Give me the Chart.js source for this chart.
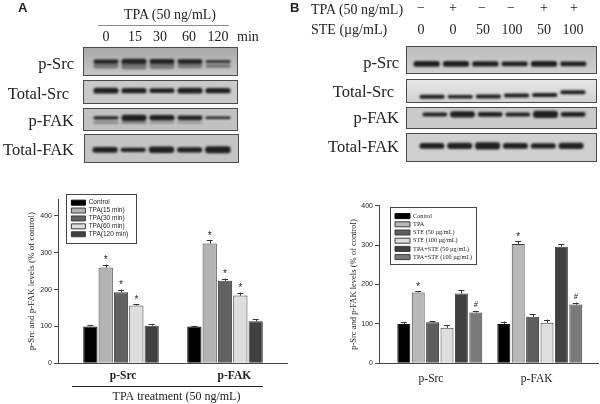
<!DOCTYPE html>
<html><head><meta charset="utf-8">
<script src="https://cdn.jsdelivr.net/npm/chart.js@4"></script>
<style>
html,body{margin:0;padding:0;background:#fff;width:600px;height:404px;overflow:hidden}
#page{position:relative;width:600px;height:404px;font-family:"Liberation Serif",serif;color:#222}
.t{position:absolute;white-space:nowrap;line-height:1;filter:blur(.3px)}
.panel{position:absolute;box-sizing:border-box;border:1px solid #4a4a4a;overflow:hidden}
.panel canvas{position:absolute;left:0;top:0;filter:blur(.9px)}
canvas.chart{position:absolute;filter:blur(.35px)}
</style></head><body><div id="page"></div>
<script>
// ---------- bar chart A ----------
const groupsA=['p-Src','p-FAK'];
const seriesNamesA=['Control','TPA(15 min)','TPA(30 min)','TPA(60 min)','TPA(120 min)'];
const colorsA=['#000000','#b4b4b4','#626262','#dedede','#404040'];
const controlA=[100,100], tpa15A=[260,325], tpa30A=[193,224], tpa60A=[157,184], tpa120A=[102,114];
const controlErrA=[3,2], tpa15ErrA=[8,9], tpa30ErrA=[7,6], tpa60ErrA=[4,8], tpa120ErrA=[4,5];
const marksA=['','*','*','*',''];
const yTicksA=[0,100,200,300,400];
// ---------- bar chart B ----------
const groupsB=['p-Src','p-FAK'];
const seriesNamesB=['Control','TPA','STE (50 \u00b5g/mL)','STE (100 \u00b5g/mL)','TPA+STE (50 \u00b5g/mL)','TPA+STE (100 \u00b5g/mL)'];
const colorsB=['#000000','#b8b8b8','#5e5e5e','#dedede','#404040','#7a7a7a'];
const controlB=[100,100], tpaB=[180,303], ste50B=[104,118], ste100B=[90,103], tpaSte50B=[177,296], tpaSte100B=[129,149];
const controlErrB=[5,6], tpaErrB=[3,7], ste50ErrB=[3,7], ste100ErrB=[6,8], tpaSte50ErrB=[8,6], tpaSte100ErrB=[4,5];
const marksB=['','*','','','','#'];
const yTicksB=[0,100,200,300,400];
// ---------- western blot band strengths ----------
const pSrcA=[7,10,9,8,5], pSrcA2=[10,14,12,9,7];
const totalSrcA=[13,12,11,13,12];
const pFakA=[8,15,13,11,6], pFakA2=[5,5,3,3,0];
const totalFakA=[11,8,12,10,13];
const pSrcB=[11,11,10,9,11,9];
const totalSrcB=[9,8,9,9,9,9], totalSrcBrow=[76,76,75,70,68,56];
const pFakB=[10,16,12,10,18,12];
const totalFakB=[11,12,13,11,10,12];
const lanesA=['0','15','30','60','120'];
const tpaMarks=['\u2212','+','\u2212','\u2212','+','+'];
const steDoses=['0','0','50','100','50','100'];

const page=document.getElementById('page');
function text(s,o){const d=document.createElement('div');d.className='t';d.textContent=s;
  d.style.fontSize=o.size+'px';d.style.top=(o.y-o.size/2)+'px';
  if(o.bold){d.style.fontWeight='bold'} if(o.font){d.style.fontFamily=o.font}
  if(o.anchor==='r'){d.style.right=(600-o.x)+'px'}
  else if(o.anchor==='c'){d.style.left=o.x+'px';d.style.transform='translateX(-50%)'}
  else d.style.left=o.x+'px';
  page.appendChild(d);}
function hline(x,y,w,c){const d=document.createElement('div');d.style.cssText=`position:absolute;left:${x}px;top:${y}px;width:${w}px;height:1px;background:${c}`;page.appendChild(d);}

const SANS='"Liberation Sans",sans-serif';
text('A',{x:18,y:7,size:13,bold:true,font:SANS});
text('B',{x:290,y:7,size:13,bold:true,font:SANS});
text('TPA (50 ng/mL)',{x:170,y:14.5,size:14,anchor:'c'});
hline(98,25,131,'#8a8a8a');
[106,135,160,189,218].forEach((x,i)=>text(lanesA[i],{x,y:37,size:14,anchor:'c'}));
text('min',{x:237,y:37,size:14});
text('TPA (50 ng/mL)',{x:311,y:9.5,size:14});
text('STE (\u00b5g/mL)',{x:311,y:29.5,size:14});
[421,453,482,511,544,574].forEach((x,i)=>text(tpaMarks[i],{x,y:8,size:14,anchor:'c'}));
[421,453,483,512,544,573].forEach((x,i)=>text(steDoses[i],{x,y:29.5,size:14,anchor:'c'}));
[['p-Src',74,64],['Total-Src',69,94],['p-FAK',74,121],['Total-FAK',74,150]].forEach(a=>text(a[0],{x:a[1],y:a[2],size:16.5,anchor:'r'}));
[['p-Src',399,63],['Total-Src',394,92],['p-FAK',399,118],['Total-FAK',399,147]].forEach(a=>text(a[0],{x:a[1],y:a[2],size:16.5,anchor:'r'}));

function blot(x,y,w,h,bg,padL,padR,labels,bands){
  const p=document.createElement('div');p.className='panel';
  p.style.cssText=`left:${x}px;top:${y}px;width:${w}px;height:${h}px;background:${bg}`;
  const c=document.createElement('canvas');c.width=w-2;c.height=h-2;p.appendChild(c);page.appendChild(p);
  new Chart(c,{type:'bar',data:{labels,datasets:bands.map(b=>({
      data:b.s.map((v,i)=>{const m=Array.isArray(b.row)?b.row[i]:b.row;return [m-v,m+v];}),
      backgroundColor:b.c,barPercentage:.9,categoryPercentage:1,borderRadius:3,borderSkipped:false,grouped:false}))},
    options:{responsive:false,animation:false,events:[],layout:{padding:{left:padL,right:padR,top:0,bottom:0}},
      plugins:{legend:{display:false},tooltip:{enabled:false}},
      scales:{x:{display:false},y:{display:false,min:0,max:100,reverse:true}}}});
}
const D='rgba(22,22,22,.95)',S='rgba(60,60,60,.55)';
blot(83,47,155,29,'linear-gradient(#a9a9a9,#c6c6c6)',8,5,lanesA,[{s:pSrcA2,row:66,c:S},{s:pSrcA,row:50,c:D}]);
blot(83,80,155,24,'#c9c9c9',8,5,lanesA,[{s:totalSrcA,row:44,c:D}]);
blot(83,108,155,23,'#c2c2c2',8,5,lanesA,[{s:pFakA2,row:65,c:S},{s:pFakA,row:42,c:D}]);
blot(84,134,155,29,'#c4c4c4',6,6,lanesA,[{s:totalFakA,row:55,c:D}]);
blot(406,46,191,28,'linear-gradient(#bdbdbd,#cfcfcf)',5,8,steDoses,[{s:pSrcB,row:65,c:D}]);
blot(406,79,191,24,'linear-gradient(#e6e6e6,#d2d2d2)',11,9,steDoses,[{s:totalSrcB,row:totalSrcBrow,c:D}]);
blot(406,107,191,22,'#cacaca',14,9,steDoses,[{s:pFakB,row:32,c:D}]);
blot(406,133,191,29,'#d0d0d0',11,11,steDoses,[{s:totalFakB,row:44,c:D}]);

Chart.defaults.color='#222';
function barChart(o){
  const c=document.createElement('canvas');c.className='chart';c.width=300;c.height=219;
  c.style.left=o.left+'px';c.style.top='185px';page.appendChild(c);
  const deco={id:'deco',
    beforeDraw(ch){const g=ch.ctx;g.save();g.strokeStyle='#444';g.lineWidth=1;g.strokeRect(o.frame[0]+.5,o.frame[1]+.5,o.frame[2],o.frame[3]);g.restore();},
    afterLayout(ch){const l=ch.legend;const w=l.right-l.left,h=l.bottom-l.top;l.left=o.legendAt[0];l.top=o.legendAt[1];l.right=l.left+w;l.bottom=l.top+h;},
    afterDatasetsDraw(ch){const g=ch.ctx,ys=ch.scales.y;g.save();
      ch.data.datasets.forEach((ds,i)=>{ch.getDatasetMeta(i).data.forEach((b,j)=>{
        const top=ys.getPixelForValue(ds.data[j].y+ds.err[j]);
        g.strokeStyle='#333';g.lineWidth=1;g.beginPath();
        g.moveTo(Math.round(b.x)+.5,b.y);g.lineTo(Math.round(b.x)+.5,top);
        g.moveTo(b.x-o.cap,Math.round(top)+.5);g.lineTo(b.x+o.cap,Math.round(top)+.5);g.stroke();
        const m=o.marks[i];
        if(m&&ds.data[j].y>120){g.fillStyle='#222';g.textAlign='center';g.textBaseline='middle';
          g.font=m==='#'?'italic 8px "Liberation Serif"':'10px "Liberation Sans"';g.fillText(m,b.x,top-(m==='#'?6:4));}
      });});
      if(o.under){g.strokeStyle='#222';g.beginPath();g.moveTo(72,201.5);g.lineTo(263,201.5);g.stroke();
        g.fillStyle='#222';g.font='12px "Liberation Serif"';g.textAlign='center';g.textBaseline='middle';g.fillText(o.under,176.5,212);}
      g.restore();}};
  return new Chart(c,{type:'bar',
    data:{datasets:o.series.map((s,i)=>({label:o.names[i],data:s.map((y,j)=>({x:j+1,y})),err:o.errs[i],
      backgroundColor:o.colors[i],borderColor:i===0?'#000':'#3c3c3c',borderWidth:1,
      barPercentage:o.barPct,categoryPercentage:o.catPct}))},
    plugins:[deco],
    options:{responsive:false,animation:false,events:[],
      layout:{padding:o.pad},
      plugins:{tooltip:{enabled:false},
        legend:{position:'chartArea',align:'start',labels:{boxWidth:o.boxW,boxHeight:5,padding:o.legPad,color:'#222',font:{family:o.legFont,size:o.legSize}}}},
      scales:{
        x:{type:'linear',min:o.xMin,max:o.xMax,offset:false,
          afterBuildTicks(a){a.ticks=o.labelAt.map(value=>({value}));},
          afterFit(a){a.height=o.xH;},
          grid:{display:false,drawTicks:false},border:{color:'#444'},
          ticks:{autoSkip:false,maxRotation:0,padding:o.xPad,color:'#222',font:{family:'"Liberation Serif"',size:11.5,weight:o.xBold},
            callback(v,i){return o.groups[i];}}},
        y:{min:0,max:o.yMax,
          afterBuildTicks(a){a.ticks=o.ticks.map(value=>({value}));},
          afterFit(a){a.width=o.yW;},
          grid:{drawOnChartArea:false,tickLength:4,color:'#444'},border:{color:'#444'},
          title:{display:true,text:'p-Src and p-FAK levels (% of control)',color:'#222',font:{family:'"Liberation Serif"',size:o.titleSize},padding:{top:0,bottom:0}},
          ticks:{padding:2,color:'#222',font:{family:SANS,size:7}}}}}});
}
barChart({left:0,groups:groupsA,names:seriesNamesA,colors:colorsA,
  series:[controlA,tpa15A,tpa30A,tpa60A,tpa120A],errs:[controlErrA,tpa15ErrA,tpa30ErrA,tpa60ErrA,tpa120ErrA],
  marks:marksA,ticks:yTicksA,yMax:446,xMin:.394,xMax:2.596,labelAt:[1.02,2.09],barPct:.93,catPct:.737,cap:3,
  pad:{left:26,right:13,top:14,bottom:0},yW:32,xH:40.7,xPad:6,xBold:'bold',titleSize:9,
  frame:[66,9,70,49],legendAt:[70,13],boxW:14,legPad:1.4,legFont:SANS,legSize:6.5,under:'TPA treatment (50 ng/mL)'});
barChart({left:300,groups:groupsB,names:seriesNamesB,colors:colorsB,
  series:[controlB,tpaB,ste50B,ste100B,tpaSte50B,tpaSte100B],errs:[controlErrB,tpaErrB,ste50ErrB,ste100ErrB,tpaSte50ErrB,tpaSte100ErrB],
  marks:marksB,ticks:yTicksB,yMax:400,xMin:.392,xMax:2.582,labelAt:[.912,1.969],barPct:.9,catPct:.864,cap:3,
  pad:{left:49,right:2,top:20.7,bottom:0},yW:30,xH:40.7,xPad:9,xBold:'normal',titleSize:8.5,
  frame:[90,22,86,57],legendAt:[93,26],boxW:15,legPad:2,legFont:'"Liberation Serif"',legSize:6.2});
</script></body></html>
